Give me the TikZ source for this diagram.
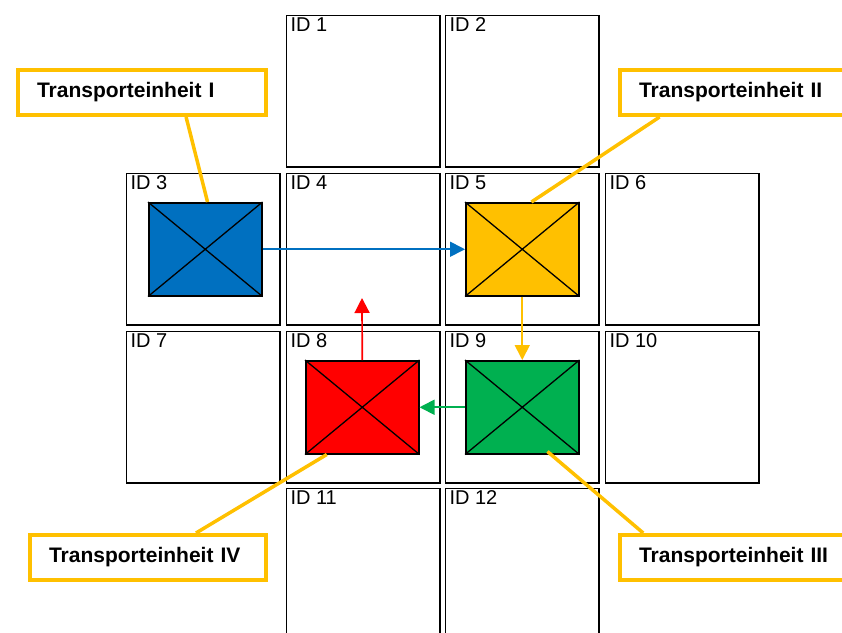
\documentclass[tikz,border=0pt]{standalone}
\usepackage{fontspec}
\setmainfont{Liberation Sans}
\usetikzlibrary{arrows.meta,calc}
\definecolor{unitblue}{HTML}{0070C0}
\definecolor{unityellow}{HTML}{FFC000}
\definecolor{unitgreen}{HTML}{00B050}
\definecolor{unitred}{HTML}{FF0000}
\definecolor{calloutgold}{HTML}{FFC000}
\begin{document}
\begin{tikzpicture}[x=1pt,y=-1pt,
  cell/.style={draw=black, line width=1.6pt, anchor=north west,
    xshift=0.8pt, yshift=-0.8pt,
    minimum width=153.4pt, minimum height=151.4pt, inner sep=0pt},
  cellid/.style={anchor=north west, inner xsep=4.5pt, inner ysep=2.5pt,
    font=\fontsize{20}{24}\selectfont},
  unit/.style={draw=black, line width=1.5pt, anchor=north west,
    minimum width=113pt, minimum height=93pt, inner sep=0pt},
  cross/.style={draw=black, line width=1.3pt},
  flow/.style={line width=1.7pt, -{Triangle[length=15pt,width=15pt]}},
  callout/.style={draw=calloutgold, line width=4pt, anchor=north west,
    xshift=2pt, yshift=-2pt,
    minimum height=45pt, inner xsep=19pt, inner ysep=0pt, align=left,
    font=\bfseries\fontsize{21}{25}\selectfont},
  leader/.style={draw=calloutgold, line width=3.5pt}]
\useasboundingbox (0,0) rectangle (842,632);

% storage grid
\node[cell] (c1)  at (285,14)  {};
\node[cell] (c2)  at (444,14)  {};
\node[cell] (c3)  at (125,172) {};
\node[cell] (c4)  at (285,172) {};
\node[cell] (c5)  at (444,172) {};
\node[cell] (c6)  at (604,172) {};
\node[cell] (c7)  at (125,330) {};
\node[cell] (c8)  at (285,330) {};
\node[cell] (c9)  at (444,330) {};
\node[cell] (c10) at (604,330) {};
\node[cell] (c11) at (285,487) {};
\node[cell] (c12) at (444,487) {};
\foreach \i in {1,...,12}
  \node[cellid] (t\i) at (c\i.north west) {ID \i};

% transport units
\node[unit, fill=unitblue]   (ub) at (148,202) {};
\node[unit, fill=unityellow] (uy) at (465,202) {};
\node[unit, fill=unitgreen]  (ug) at (465,360) {};
\node[unit, fill=unitred]    (ur) at (305,360) {};
\foreach \u in {ub,uy,ug,ur}
  \draw[cross] (\u.north west) -- (\u.south east) (\u.north east) -- (\u.south west);

% movements
\coordinate (redtip) at (362,298);
\draw[flow, unitblue]   (ub.east)  -- (uy.west);
\draw[flow, unityellow] (uy.south) -- (ug.north);
\draw[flow, unitgreen]  (ug.west)  -- (ur.east);
\draw[flow, unitred]    (ur.north) -- (redtip);

% callouts
\node[callout, text width=210pt] (l1) at (14,66)  {Transporteinheit I};
\node[callout, text width=210pt] (l2) at (616,66) {Transporteinheit II};
\node[callout, text width=198pt] (l4) at (26,531) {Transporteinheit IV};
\node[callout, text width=210pt] (l3) at (616,531) {Transporteinheit III};

\draw[leader] ($(l1.south west)!0.675!(l1.south east)$) -- ($(ub.north west)!0.52!(ub.north east)$);
\draw[leader] ($(l2.south west)!0.165!(l2.south east)$) -- ($(uy.north west)!0.58!(uy.north east)$);
\draw[leader] ($(l4.north west)!0.70!(l4.north east)$) -- ($(ur.south west)!0.19!(ur.south east)$);
\draw[leader] ($(l3.north west)!0.10!(l3.north east)$) -- ($(ug.south west)!0.72!(ug.south east)+(0,-3)$);
\end{tikzpicture}
\end{document}
